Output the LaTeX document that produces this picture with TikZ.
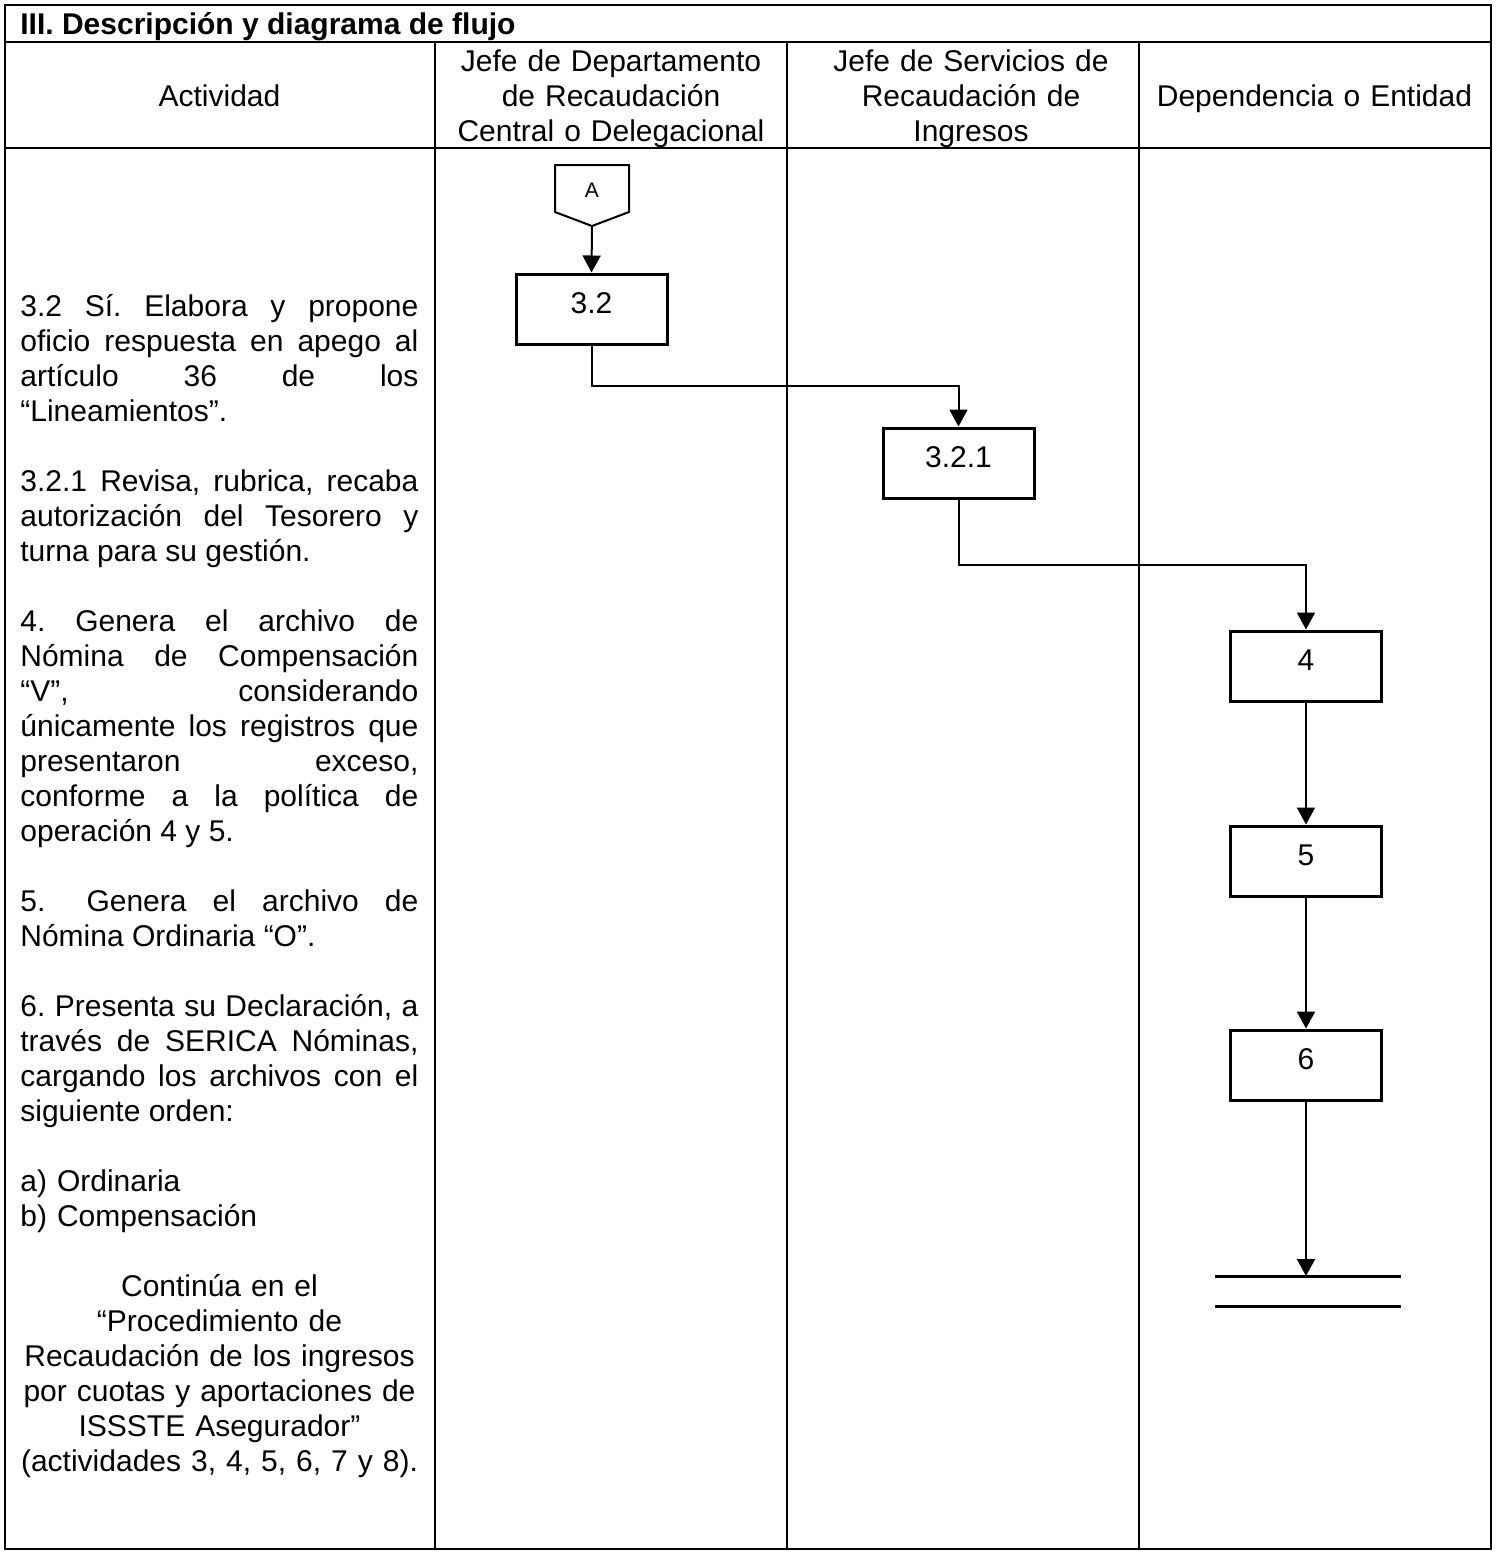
\documentclass[tikz,border=0pt]{standalone}
\usepackage{fontspec}
\setmainfont{Liberation Sans}
\usetikzlibrary{arrows.meta}
\tolerance=10000
\hyphenpenalty=10000
\frenchspacing
\hbadness=10000

\begin{document}
\begin{tikzpicture}[x=0.5pt, y=-0.5pt,
    tabla/.style={line width=0.6pt},
    caja/.style={draw, line width=1.5pt, minimum width=75.5pt, minimum height=35pt,
        inner sep=0pt, text height=10pt, text depth=6pt, font=\fontsize{15}{17.5}\selectfont},
    flujo/.style={line width=1pt, -{Triangle[length=8.5pt,width=9pt]}},
    encabezado/.style={anchor=base, align=center, text width=170pt, inner sep=0pt,
        font=\fontsize{15}{17.5}\selectfont},
    parrafo/.style={anchor=base west, align=justify, text width=199pt, inner sep=0pt,
        font=\fontsize{15}{17.5}\selectfont}]

    \useasboundingbox (0,0) rectangle (1497,1555);

    % Table
    \draw[tabla] (5,5) rectangle (1491,1549);
    \draw[tabla] (5,42) -- (1491,42);
    \draw[tabla] (5,148) -- (1491,148);
    \foreach \x in {435,787,1139}
        \draw[tabla] (\x,42) -- (\x,1549);

    \node[anchor=base west, inner sep=0pt, font=\fontsize{15}{17.5}\selectfont\bfseries]
        (titulo) at (20,34) {III. Descripción y diagrama de flujo};

    % Headers
    \node[encabezado] (hAct) at (219.5,106) {Actividad};
    \node[encabezado] (hJefeDep) at (611,71) {Jefe de Departamento\\de Recaudación\\Central o Delegacional};
    \node[encabezado] (hJefeServ) at (971,71) {Jefe de Servicios de\\Recaudación de\\Ingresos};
    \node[encabezado] (hDep) at (1314.5,106) {Dependencia o Entidad};

    % Activities
    \node[parrafo] (d32) at (20,316)
        {3.2 Sí. Elabora y propone\linebreak oficio respuesta en apego al\linebreak
         artículo 36 de los\linebreak “Lineamientos”.};
    \node[parrafo] (d321) at (20,491)
        {3.2.1 Revisa, rubrica, recaba\linebreak autorización del Tesorero y\linebreak
         turna para su gestión.};
    \node[parrafo] (d4) at (20,631)
        {4. Genera el archivo de\linebreak Nómina de Compensación\linebreak
         “V”, considerando\linebreak únicamente los registros que\linebreak
         presentaron exceso,\linebreak conforme a la política de\linebreak
         operación 4 y 5.};
    \node[parrafo] (d5) at (20,911)
        {5. \enspace Genera el archivo de\linebreak Nómina Ordinaria “O”.};
    \node[parrafo] (d6) at (20,1016)
        {6. Presenta su Declaración, a\linebreak través de SERICA Nóminas,\linebreak
         cargando los archivos con el\linebreak siguiente orden:};
    \node[parrafo, align=left] (d6ab) at (20,1191) {a) Ordinaria\\b) Compensación};
    \node[parrafo, anchor=base, align=center] (dcont) at (219.5,1296)
        {Continúa en el\\“Procedimiento de\\Recaudación de los ingresos\\
         por cuotas y aportaciones de\\ISSSTE Asegurador”\\(actividades 3, 4, 5, 6, 7 y 8).};

    % Off-page connector
    \draw[line width=1pt] (555,165) -- (629,165) -- (629,212) -- (592,226) -- (555,212) -- cycle;
    \node[inner sep=0pt, font=\fontsize{10.5}{12}\selectfont] (conA) at (592,190.5) {A};
    \coordinate (conApunta) at (592,226);

    % Flow
    \node[caja] (p32) at (591.5,309) {3.2};
    \node[caja] (p321) at (958.5,463) {3.2.1};
    \node[caja] (p4) at (1306,666) {4};
    \node[caja] (p5) at (1306,861) {5};
    \node[caja] (p6) at (1306,1065) {6};

    \draw[flujo] (conApunta) -- (p32.north);
    \draw[flujo] (p32.south) -- (p32.south |- 0,386) -| (p321.north);
    \draw[flujo] (p321.south) -- (p321.south |- 0,565) -| (p4.north);
    \draw[flujo] (p4) -- (p5);
    \draw[flujo] (p5) -- (p6);

    % End
    \coordinate (fin) at (1306,1276);
    \draw[line width=1.5pt] (1215,1276) -- (1401,1276) (1215,1306) -- (1401,1306);
    \draw[flujo] (p6) -- (fin);

\end{tikzpicture}
\end{document}
